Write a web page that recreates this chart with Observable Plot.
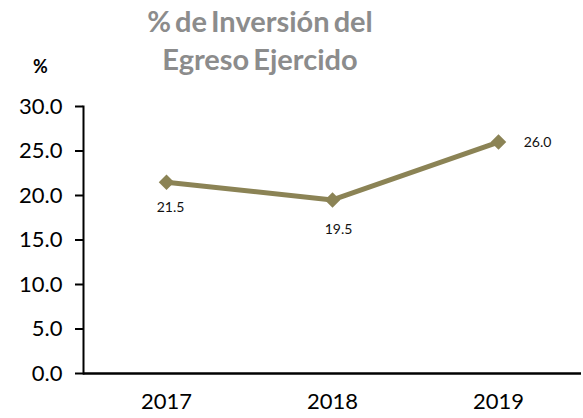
<!DOCTYPE html>
<html><head><meta charset="utf-8">
<script src="https://cdn.jsdelivr.net/npm/d3@7"></script>
<script src="https://cdn.jsdelivr.net/npm/@observablehq/plot@0.6"></script>
<style>
body{margin:0;background:#fff;font-family:Lato,sans-serif;}
#wrap{position:relative;width:583px;height:418px;}
#title{position:absolute;left:60px;width:400px;top:2px;text-align:center;color:#8c8c8c;font-weight:bold;font-size:29px;line-height:38px;word-spacing:-3px;}
#unit{position:absolute;left:33px;top:55px;font-weight:bold;font-size:18px;color:#000;}
</style></head><body>
<div id="wrap">
<div id="chart"></div>
<div id="title">% de Inversión del<br>Egreso Ejercido</div>
<div id="unit">%</div>
</div>
<script>
const years = ["2017","2018","2019"];
const values = [21.5, 19.5, 26.0];
const yTicks = [0,5,10,15,20,25,30];
const data = years.map((y,i)=>({year:y, value:values[i]}));
// label placement relative to point
const labelPos = [{dx:4,dy:25},{dx:6,dy:30},{dx:39,dy:0}];
const color = "#8b8355";
const chart = Plot.plot({
  width:583, height:418,
  marginLeft:83, marginRight:2, marginTop:106, marginBottom:45,
  style:{fontFamily:"Lato, sans-serif", background:"#fff"},
  x:{type:"point", domain:years, padding:0.5, label:null},
  y:{domain:[0,30], label:null},
  marks:[
    Plot.axisY({ticks:yTicks, tickFormat:d=>d.toFixed(1), tickSize:8, tickPadding:13, fontSize:22, stroke:"#000", strokeWidth:2, color:"#000", label:null}),
    Plot.axisX({tickSize:0, tickPadding:20, fontSize:22, color:"#000", label:null}),
    Plot.frame({anchor:"left", stroke:"#000", strokeWidth:2}),
    Plot.ruleY([0], {stroke:"#000", strokeWidth:2.5}),
    Plot.line(data, {x:"year", y:"value", stroke:color, strokeWidth:5}),
    Plot.dot(data, {x:"year", y:"value", symbol:"diamond2", r:7, fill:color, stroke:color, strokeWidth:0}),
    ...data.map((d,i)=>Plot.text([d], {x:"year", y:"value", text:d=>d.value.toFixed(1), dx:labelPos[i].dx, dy:labelPos[i].dy, fontSize:14, fill:"#111"}))
  ]
});
document.getElementById("chart").appendChild(chart);
</script>
</body></html>
